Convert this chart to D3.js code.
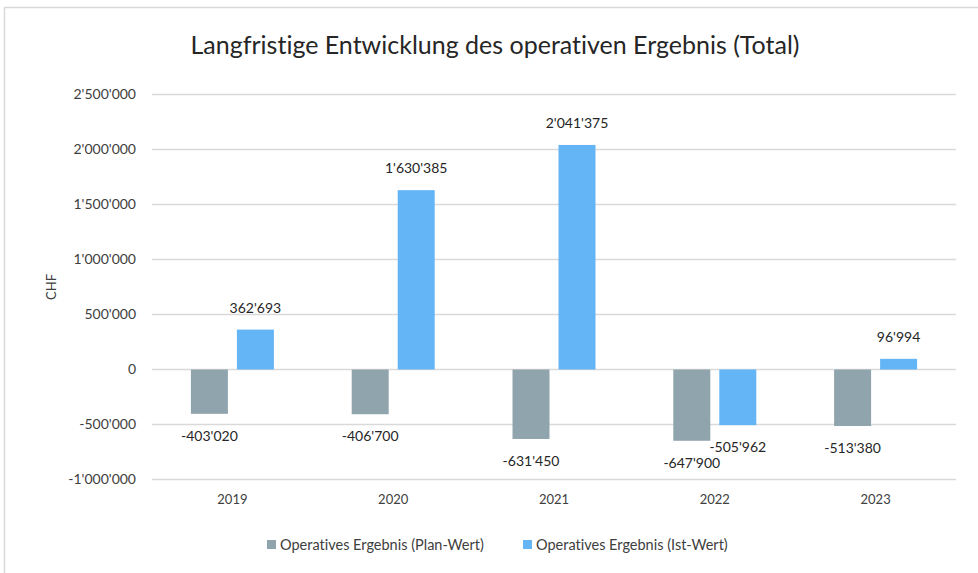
<!DOCTYPE html>
<html>
<head>
<meta charset="utf-8">
<script src="https://cdn.jsdelivr.net/npm/d3@7"></script>
<style>
  body { margin: 0; background: #fff; }
  svg { display: block; font-family: Lato, "Open Sans", sans-serif; font-variant-ligatures: none; }
</style>
</head>
<body>
<svg id="chart"></svg>
<script>
// Daten aus dem Diagramm
var years = ["2019", "2020", "2021", "2022", "2023"];
var planWerte = [-403020, -406700, -631450, -647900, -513380];
var istWerte = [362693, 1630385, 2041375, -505962, 96994];
var yTicks = [-1000000, -500000, 0, 500000, 1000000, 1500000, 2000000, 2500000];
var serienNamen = ["Operatives Ergebnis (Plan-Wert)", "Operatives Ergebnis (Ist-Wert)"];
var farben = ["#90a4ae", "#64b5f6"];

var width = 978, height = 573;

var svg = d3.select("#chart")
  .attr("width", width)
  .attr("height", height);

// Rahmen um das Diagramm (nur links und oben sichtbar)
svg.append("path")
  .attr("d", "M4.5,573 L4.5,7.5 L978,7.5")
  .attr("fill", "none")
  .attr("stroke", "#d9d9d9")
  .attr("stroke-width", 1.5);

var locale = d3.formatLocale({decimal: ".", thousands: "'", grouping: [3], currency: ["", ""], minus: "-"});
var fmt = locale.format(",");

var plotLeft = 152, plotRight = 956, plotTop = 94.5, plotBottom = 479.5;

var x = d3.scaleBand()
  .domain(years)
  .range([plotLeft, plotRight]);

var y = d3.scaleLinear()
  .domain([-1000000, 2500000])
  .range([plotBottom, plotTop]);

var barW = 37, gap = 9;

// Gitterlinien
svg.append("g")
  .selectAll("line")
  .data(yTicks)
  .enter()
  .append("line")
  .attr("x1", plotLeft)
  .attr("x2", plotRight)
  .attr("y1", function(d) { return y(d); })
  .attr("y2", function(d) { return y(d); })
  .attr("stroke", "#d9d9d9")
  .attr("stroke-width", 1.5);

// y-Achse
var yAxis = svg.append("g")
  .attr("transform", "translate(" + (plotLeft - 16) + ",0)")
  .call(d3.axisLeft(y).tickValues(yTicks).tickFormat(fmt).tickSize(0).tickPadding(0));
yAxis.select(".domain").remove();
yAxis.selectAll("text")
  .style("font-size", "14px")
  .style("font-family", "Lato, sans-serif")
  .attr("fill", "#404040");

// x-Achse
var xAxis = svg.append("g")
  .attr("transform", "translate(0," + (plotBottom + 15) + ")")
  .call(d3.axisBottom(x).tickSize(0).tickPadding(0));
xAxis.select(".domain").remove();
xAxis.selectAll("text")
  .style("font-size", "13px")
  .style("font-family", "Lato, sans-serif")
  .attr("fill", "#404040");

// Balken
var serien = [planWerte, istWerte];
serien.forEach(function(werte, s) {
  var offset = s == 0 ? -(gap / 2 + barW) : gap / 2;
  var g = svg.append("g");
  g.selectAll("rect")
    .data(werte)
    .enter()
    .append("rect")
    .attr("x", function(d, i) { return x(years[i]) + x.bandwidth() / 2 + offset; })
    .attr("width", barW)
    .attr("y", function(d) { return Math.min(y(d), y(0)); })
    .attr("height", function(d) { return Math.abs(y(d) - y(0)); })
    .attr("fill", farben[s]);

  g.selectAll("text")
    .data(werte)
    .enter()
    .append("text")
    .attr("x", function(d, i) { return x(years[i]) + x.bandwidth() / 2 + offset + barW / 2; })
    .attr("y", function(d) { return d < 0 ? y(d) + 22 : y(d) - 22; })
    .attr("dy", "0.35em")
    .attr("text-anchor", "middle")
    .style("font-size", "14px")
    .attr("fill", "#262626")
    .text(function(d) { return fmt(d); });
});

// Titel
svg.append("text")
  .attr("x", 495)
  .attr("y", 54)
  .attr("text-anchor", "middle")
  .style("font-size", "25px")
  .attr("fill", "#262626")
  .text("Langfristige Entwicklung des operativen Ergebnis (Total)");

// y-Achsenbeschriftung
svg.append("text")
  .attr("transform", "translate(56," + ((plotTop + plotBottom) / 2) + ") rotate(-90)")
  .attr("text-anchor", "middle")
  .style("font-size", "13px")
  .attr("fill", "#404040")
  .text("CHF");

// Legende
var legendX = [267, 523];
serienNamen.forEach(function(name, s) {
  svg.append("rect")
    .attr("x", legendX[s])
    .attr("y", 540)
    .attr("width", 9)
    .attr("height", 9)
    .attr("fill", farben[s]);
  svg.append("text")
    .attr("x", legendX[s] + 13)
    .attr("y", 545)
    .attr("dy", "0.35em")
    .style("font-size", "14.5px")
    .attr("fill", "#404040")
    .text(name);
});
</script>
</body>
</html>
